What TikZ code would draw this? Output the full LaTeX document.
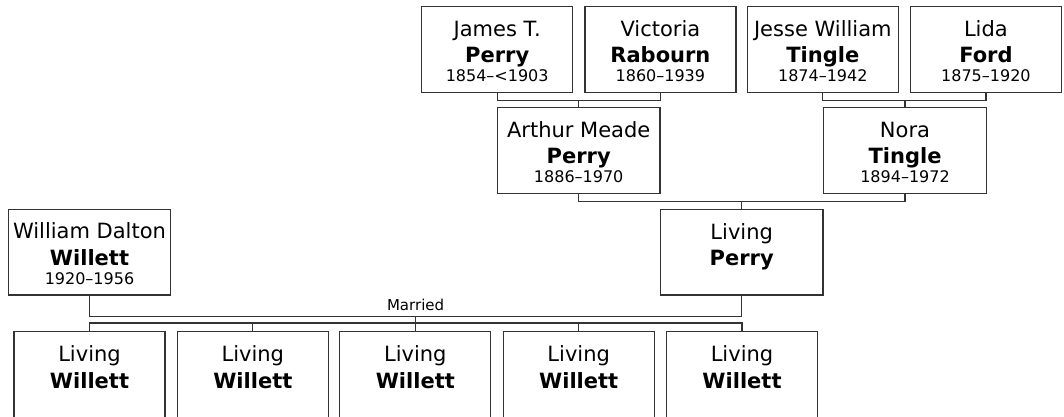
\documentclass[tikz,border=0pt]{standalone}
\usepackage{fontspec}
\setmainfont{DejaVu Sans}
\usetikzlibrary{positioning, calc}
\newcommand{\yrs}[1]{{\fontsize{16}{19}\selectfont\rule{0pt}{12pt}#1}}
\newcommand{\who}[3]{\rule{0pt}{19.5pt}#1\\\textbf{#2}\\[-7.7pt]\yrs{#3}}
\tikzset{
    person_box/.style={
        rectangle, draw=black!80, line width=1.2pt, fill=white,
        minimum width=151pt, minimum height=85.6pt, inner sep=0pt,
        align=center, font=\fontsize{21}{26.7}\selectfont
    },
    parent_box/.style={
        person_box, minimum width=162.7pt
    },
    tree_line/.style={
        draw=black!80, line width=1.2pt
    },
    wed_lbl/.style={
        font=\fontsize{15}{18}\selectfont, above, inner sep=4.5pt
    }
}

\begin{document}
\begin{tikzpicture}[x=1pt, y=1pt]

    \clip (0,0) rectangle (1064,-416);

    % --- Generation 1: great-grandparents (Top) ---
    \node[person_box] (james) at (497.2,-49.3) {\who{James T.}{Perry}{1854–<1903}};
    \node[person_box] (victoria) at (660.4,-49.3) {\who{Victoria}{Rabourn}{1860–1939}};
    \node[person_box] (jesse) at (822.8,-49.3) {\who{Jesse William}{Tingle}{1874–1942}};
    \node[person_box] (lida) at (985.9,-49.3) {\who{Lida}{Ford}{1875–1920}};

    % --- Generation 2: grandparents ---
    \node[parent_box] (arthur) at (578.7,-150.5) {\who{Arthur Meade}{Perry}{1886–1970}};
    \node[parent_box] (nora) at (905.0,-150.5) {\who{Nora}{Tingle}{1894–1972}};

    % --- Generation 3: parents ---
    \node[parent_box] (william) at (89.5,-252.2) {\who{William Dalton}{Willett}{1920–1956}};
    \node[parent_box] (perry) at (741.7,-252.2) {\who{Living}{Perry}{}};

    % --- Generation 4: children (Bottom) ---
    \node[person_box] (kid1) at (89.5,-374.5) {\who{Living}{Willett}{}};
    \node[person_box] (kid2) at (252.8,-374.5) {\who{Living}{Willett}{}};
    \node[person_box] (kid3) at (415.3,-374.5) {\who{Living}{Willett}{}};
    \node[person_box] (kid4) at (578.7,-374.5) {\who{Living}{Willett}{}};
    \node[person_box] (kid5) at (742.0,-374.5) {\who{Living}{Willett}{}};

    % =========================================================================
    % COUPLE BARS AND DESCENT LINES
    % =========================================================================
    % 1. Perry / Rabourn -> Arthur
    \draw[tree_line] (james.south) -- ++(0,-7.4) coordinate (jvbar) -| (victoria.south);
    \draw[tree_line] (arthur.north) -- (arthur.north |- jvbar);

    % 2. Tingle / Ford -> Nora
    \draw[tree_line] (jesse.south) -- ++(0,-7.4) coordinate (jlbar) -| (lida.south);
    \draw[tree_line] (nora.north) -- (nora.north |- jlbar);

    % 3. Arthur / Nora -> Living Perry
    \draw[tree_line] (arthur.south) -- ++(0,-7.2) coordinate (anbar) -| (nora.south);
    \draw[tree_line] (perry.north) -- (perry.north |- anbar);

    % 4. William / Living Perry (Married) -> children
    \draw[tree_line] (william.south) -- ++(0,-20.7)
        -| node[wed_lbl, pos=0.25] {Married} coordinate[pos=0.25] (wed) (perry.south);
    \draw[tree_line] (kid1.north) -- ++(0,8.2) coordinate (kbar) -| (kid5.north);
    \draw[tree_line] (kid2.north) -- (kid2.north |- kbar);
    \draw[tree_line] (kid4.north) -- (kid4.north |- kbar);
    \draw[tree_line] (kid3.north) -- (kid3.north |- wed);

\end{tikzpicture}
\end{document}
